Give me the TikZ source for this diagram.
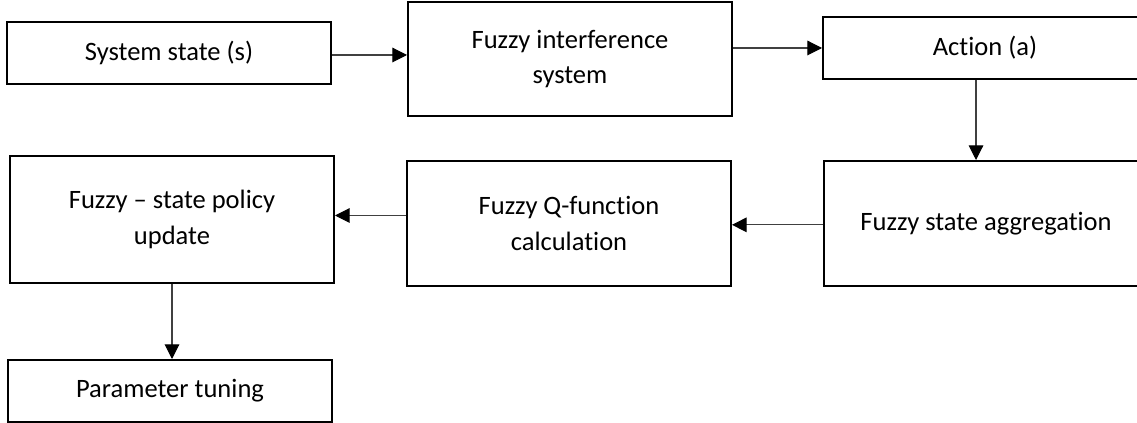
\documentclass[tikz,border=0pt]{standalone}
\usepackage{fontspec}
\setmainfont{Carlito}[Ligatures={TeX,NoCommon}]
\usetikzlibrary{arrows.meta,calc}
\tikzset{
  block/.style={draw=black, line width=1.5pt, rectangle, inner sep=0pt,
    minimum width=243pt, align=center,
    font=\fontsize{19.9pt}{26.5pt}\selectfont},
  flow/.style={draw=black!75, line width=0.8pt,
    -{Triangle[length=11pt,width=11pt,color=black]}}
}
\begin{document}
\begin{tikzpicture}[x=0.75pt,y=-0.75pt]
  \useasboundingbox (0,0) rectangle (1137,423);
  \clip (0,0) rectangle (1137,423);

  % top row
  \node[block, minimum height=46.5pt] (sys) at (169,53) {System state (s)};
  \node[block, minimum height=85.5pt] (fis) at (570,59) {Fuzzy interference\\system};
  \node[block, minimum height=46.5pt] (act) at (985,48) {Action (a)};

  % middle row
  \node[block, minimum height=93.75pt] (agg) at (986,223.5) {Fuzzy state aggregation};
  \node[block, minimum height=93.75pt] (fq) at (569,223.5) {Fuzzy Q-function\\calculation};
  \node[block, minimum height=95.25pt] (pol) at (172,219.5) {Fuzzy – state policy\\update};

  % bottom
  \node[block, minimum height=46.5pt] (par) at (170,391) {Parameter tuning};

  % connectors
  \draw[flow] ([yshift=-1.5pt]sys.east) -- ([yshift=-1.5pt]sys.east -| fis.west);
  \draw[flow] (act.west -| fis.east) -- (act.west);
  \coordinate (actout) at ($(act.south)+(-9,0)$);
  \draw[flow] (actout) -- (actout |- agg.north);
  \draw[flow] ([yshift=-1pt]agg.west) -- ([yshift=-1pt]agg.west -| fq.east);
  \draw[flow] ([yshift=3pt]pol.east -| fq.west) -- ([yshift=3pt]pol.east);
  \draw[flow] (pol.south) -- (pol.south |- par.north);
\end{tikzpicture}
\end{document}
